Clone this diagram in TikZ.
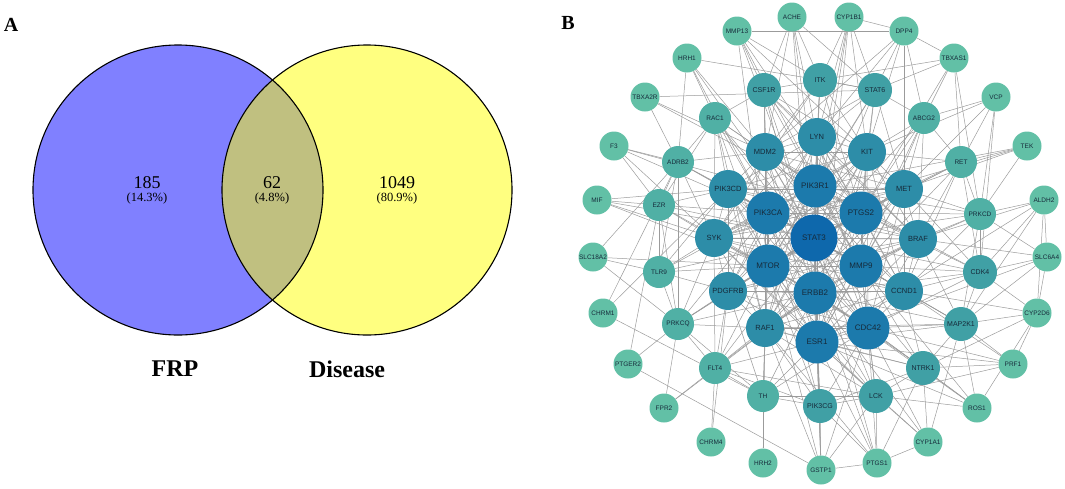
\documentclass[tikz,border=0pt]{standalone}
\usepackage{fontspec}
\setmainfont{Liberation Serif}
\setsansfont{Liberation Sans}
\usetikzlibrary{backgrounds}

\definecolor{frpblue}{RGB}{128,128,255}
\definecolor{disyellow}{RGB}{255,255,128}
\definecolor{botholive}{RGB}{192,192,128}
\definecolor{edgegray}{RGB}{155,155,155}
\definecolor{genetext}{RGB}{22,42,58}
\definecolor{lvA}{RGB}{98,192,166}
\definecolor{lvB}{RGB}{80,176,165}
\definecolor{lvC}{RGB}{64,160,165}
\definecolor{lvD}{RGB}{45,141,168}
\definecolor{lvE}{RGB}{28,122,172}
\definecolor{lvF}{RGB}{14,104,172}

\tikzset{
  gene/.style={circle,inner sep=0pt,text=genetext,font=\sffamily\fontsize{6.5}{6.5}\selectfont},
  geneA/.style={gene,fill=lvA,minimum size=29pt},
  geneB/.style={gene,fill=lvB,minimum size=32pt},
  geneC/.style={gene,fill=lvC,minimum size=34pt,font=\sffamily\fontsize{7}{7}\selectfont},
  geneD/.style={gene,fill=lvD,minimum size=38pt,font=\sffamily\fontsize{7.5}{7.5}\selectfont},
  geneE/.style={gene,fill=lvE,minimum size=43pt,font=\sffamily\fontsize{8}{8}\selectfont},
  geneF/.style={gene,fill=lvF,minimum size=47pt,font=\sffamily\fontsize{8}{8}\selectfont},
  link/.style={draw=edgegray,line width=0.5pt},
  vennnum/.style={inner sep=0pt,font=\fontsize{18}{18}\selectfont},
  vennpct/.style={inner sep=0pt,font=\fontsize{12.5}{12.5}\selectfont},
  setname/.style={inner sep=0pt,font=\bfseries\fontsize{24}{24}\selectfont},
  panel/.style={inner sep=0pt,font=\bfseries\fontsize{20}{20}\selectfont},
}

\begin{document}
\begin{tikzpicture}[x=1pt,y=-1pt]
\useasboundingbox (0,0) rectangle (1065,488);

%Panel A: Venn diagram
\node[panel] (labA) at (11,25) {A};
\fill[frpblue] (178,190) circle[radius=145pt];
\fill[disyellow] (367,190) circle[radius=145pt];
\begin{scope}
  \clip (178,190) circle[radius=145pt];
  \fill[botholive] (367,190) circle[radius=145pt];
\end{scope}
\draw[line width=1.1pt] (178,190) circle[radius=145pt];
\draw[line width=1.1pt] (367,190) circle[radius=145pt];
\node[vennnum] (nFRP) at (147,183) {185};
\node[vennpct] (pFRP) at (147,198) {(14.3\%)};
\node[vennnum] (nBoth) at (272,183) {62};
\node[vennpct] (pBoth) at (272,198) {(4.8\%)};
\node[vennnum] (nDis) at (397,183) {1049};
\node[vennpct] (pDis) at (397,198) {(80.9\%)};
\node[setname] (setFRP) at (175,369) {FRP};
\node[setname] (setDis) at (347,369) {Disease};

%Panel B: PPI network
\node[panel] (labB) at (568,23) {B};
\foreach \name/\x/\y/\lv in {
  MMP13/737/31/A, ACHE/792/17/A, CYP1B1/849/17/A, DPP4/904/31/A,
  HRH1/687/58/A, TBXAS1/954/58/A, TBXA2R/645/97/A, VCP/996/97/A,
  CSF1R/764/90/C, ITK/820/80/C, STAT6/875/90/C, RAC1/715/118/B,
  ABCG2/924/118/B, F3/614/146/A, TEK/1027/146/A, LYN/817/137/D,
  MDM2/765/152/D, KIT/867/152/D, ADRB2/678/162/B, RET/961/162/B,
  PIK3CD/728/189/D, PIK3R1/815/186/E, MET/904/189/D, MIF/597/200/A,
  ALDH2/1044/200/A, EZR/659/205/B, PIK3CA/768/213/E, PTGS2/861/213/E,
  PRKCD/980/214/B, SYK/714/238/D, STAT3/814/238/F, BRAF/918/239/D,
  SLC18A2/593/257/A, SLC6A4/1047/257/A, TLR9/659/272/B, CDK4/980/272/C,
  MTOR/768/266/E, MMP9/861/266/E, PDGFRB/728/291/D, ERBB2/815/293/E,
  CCND1/904/291/D, CHRM1/603/313/A, CYP2D6/1037/313/A, PRKCQ/678/324/B,
  MAP2K1/961/324/C, RAF1/765/328/D, CDC42/868/328/E, ESR1/817/342/E,
  PTGER2/628/364/A, PRF1/1013/364/A, FLT4/715/368/B, NTRK1/923/368/C,
  TH/763/396/B, LCK/876/396/C, PIK3CG/820/406/C, FPR2/664/408/A,
  ROS1/977/408/A, CHRM4/711/442/A, CYP1A1/928/442/A, HRH2/763/463/A,
  PTGS1/877/463/A, GSTP1/821/470/A}
  \node[gene\lv] (\name) at (\x,\y) {\name};

\begin{scope}[on background layer]
  %dense core
  \def\corelist{PIK3R1,PIK3CA,PTGS2,STAT3,MTOR,MMP9,ERBB2,ESR1,CDC42,MDM2,LYN,KIT,MET,BRAF,CCND1,RAF1,PDGFRB,PIK3CD,SYK}
  \foreach \a [count=\i] in \corelist {
    \foreach \b [count=\j] in \corelist {
      \ifnum\j>\i \draw[link] (\a) -- (\b); \fi
    }
  }
  %middle ring and outer ring
  \foreach \s/\ts in {
    CSF1R/{MDM2,LYN,PIK3CA,STAT3,KIT,PTGS2,MTOR,MMP9,RAC1,ITK,ERBB2,BRAF},
    ITK/{LYN,KIT,SYK,STAT3,PIK3R1,STAT6,MDM2,PTGS2},
    STAT6/{KIT,LYN,STAT3,PIK3R1,PTGS2,MTOR,MET,ITK,MDM2,ABCG2},
    RAC1/{MDM2,PIK3CA,PIK3CD,SYK,STAT3,PIK3R1,MTOR,EZR,ADRB2,CDC42,RAF1},
    ABCG2/{KIT,MET,PTGS2,STAT3,MMP9,RET,BRAF,ESR1},
    ADRB2/{PIK3CD,SYK,PIK3CA,EZR,MDM2,STAT3,TLR9,PRKCQ},
    RET/{MET,KIT,BRAF,PTGS2,STAT3,CCND1,MMP9,PRKCD,CDK4},
    EZR/{SYK,PIK3CD,PIK3CA,STAT3,TLR9,PRKCQ,MTOR},
    PRKCD/{MET,BRAF,PTGS2,STAT3,MMP9,CCND1,CDK4,MAP2K1,PIK3R1},
    TLR9/{SYK,PIK3CA,MTOR,PDGFRB,STAT3,PRKCQ,PIK3CD},
    CDK4/{BRAF,CCND1,MMP9,STAT3,ERBB2,MAP2K1,MET,PTGS2,CDC42},
    PRKCQ/{PDGFRB,SYK,RAF1,MTOR,STAT3,FLT4,TH,PIK3CA,ERBB2},
    MAP2K1/{BRAF,CCND1,CDC42,ERBB2,MMP9,RAF1,STAT3,NTRK1,ESR1},
    FLT4/{PDGFRB,RAF1,MTOR,SYK,ESR1,STAT3,ERBB2,TH,PIK3CG,LCK},
    NTRK1/{CDC42,CCND1,ESR1,ERBB2,STAT3,LCK,MMP9,PIK3CG,RAF1},
    TH/{RAF1,ESR1,MTOR,PDGFRB,PIK3CG,ERBB2,CDC42,LCK},
    LCK/{CDC42,ESR1,ERBB2,STAT3,PIK3CG,RAF1,MMP9,MTOR,SYK},
    PIK3CG/{ESR1,ERBB2,CDC42,RAF1,MTOR,STAT3,PIK3CA},
    MMP13/{DPP4,CSF1R,ITK,STAT3,PTGS2,MTOR,MMP9,KIT},
    ACHE/{CSF1R,MDM2,LYN,ITK,PIK3R1,STAT6,ESR1},
    CYP1B1/{DPP4,ITK,LYN,STAT6,KIT,ESR1,STAT3,PIK3R1},
    DPP4/{STAT6,KIT,ABCG2,MDM2,TBXAS1,LYN,MET},
    HRH1/{RAC1,ADRB2,MDM2,STAT3,ITK,PIK3CA},
    TBXA2R/{ADRB2,STAT6,MDM2,PTGS2},
    TBXAS1/{STAT6,ABCG2,RET,PRKCD,ITK,PTGS2},
    VCP/{ABCG2,RET,PRKCD,MET,KIT,CDK4},
    F3/{ADRB2,SYK,EZR,PIK3CA,PTGS2},
    TEK/{RET,MET,PIK3R1,PRKCD,SYK},
    MIF/{EZR,PIK3CD,SYK,STAT3,MTOR},
    ALDH2/{PRKCD,CDK4,SLC6A4,CYP2D6,BRAF,MAP2K1,ESR1},
    SLC18A2/{TLR9,PRKCQ,ADRB2,MTOR},
    SLC6A4/{CDK4,CYP2D6,PRKCD,BRAF,MAP2K1,ESR1},
    CHRM1/{ADRB2,TH,PIK3CD},
    CYP2D6/{MAP2K1,PRF1,CDK4,CCND1,NTRK1,ROS1},
    PTGER2/{PRKCQ,GSTP1,EZR},
    PRF1/{MAP2K1,CDC42,NTRK1,LCK,CCND1,ESR1},
    FPR2/{FLT4,PRKCQ,ERBB2},
    ROS1/{NTRK1,MAP2K1,CDC42,LCK,ESR1,ERBB2,MMP9},
    CHRM4/{FLT4,PDGFRB},
    CYP1A1/{NTRK1,LCK,PTGS1,CDC42,ESR1,ERBB2,MAP2K1},
    HRH2/{TH,RAF1},
    PTGS1/{LCK,PIK3CG,CDC42,ESR1,ERBB2,GSTP1,NTRK1,STAT3,RAF1},
    GSTP1/{PIK3CG,ESR1,ERBB2,LCK,CDC42,RAF1,STAT3,MTOR}}
  {
    \foreach \t in \ts { \draw[link] (\s) -- (\t); }
  }
\end{scope}
\end{tikzpicture}
\end{document}
